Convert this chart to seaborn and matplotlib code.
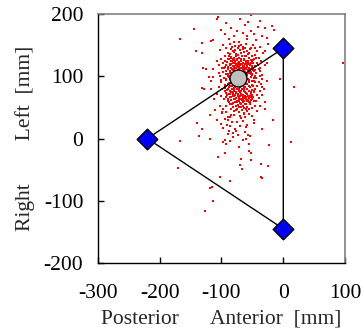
import matplotlib
matplotlib.use("Agg")
import matplotlib.pyplot as plt
import seaborn as sns
import pandas as pd

# ---- data (mm) ----
scatter_x = [
    -92, -84, -57, -41, -30, -18, -15, -52, -106, -107, -70, -62, -75, -66, -48, -35, -95, -88, -80, -58, -44, -26, -53, -38, -100,
    -113, -117, -132, -141, -131, -167, -144, -98, -92, -86, -78, -72, -66, -60, -54, -49, -43, -37, -30, -24, -103, -82, -70, -64, -57, -90, -46, -39, -33, -76, -95, -85, -67,
    -100, -94, -88, -83, -79, -75, -71, -68, -63, -59, -55, -51, -47, -42, -36, -30, -26, -92, -87, -82, -78, -74, -70, -66, -62, -58, -54, -50, -45, -40,
    -96, -90, -85, -80, -76, -72, -68, -64, -60, -56, -52, -48, -104, -108, -113, -125, -130, -120, -113, -117, -77, -61, -86, -81, -73, -67, -58, -53, -44, -38, -34, -93, -98, -103,
    -96, -92, -88, -85, -60, -56, -52, -48, -44, -40, -100, -95, -90, -86, -82, -78, -74, -70, -66, -62, -58, -54, -50, -46, -42, -36,
    -104, -99, -94, -89, -84, -80, -76, -72, -68, -64, -60, -56, -52, -47, -43, -38, -32, -26, -35, -129, -132, -117, -91, -86, -81, -77, -73, -69, -65, -61, -57, -53, -49, -44, -96, -101, -108, -112, -39, -34, -30,
    -88, -83, -78, -74, -70, -66, -62, -58, -54, -50, -46, -93, -98, -103, -37, -30, -85, -80, -75, -71, -67, -63, -59, -55, -92, -111, -118, -99, -42, -79, -70, -62, -86, -90,
    -107, -90, -98, -86, -78, -75, -70, -82, -81, -94, -93, -97, -131, -140, -136, -118, -35, -56, -16, 13, -23, -65, -58, -74, -62, -48, -88, -66,
    -36, -25, -36, -52, -56, -53, -69, -67, -70, -86, -102, -106, -94, -116, -119, -114, -126, -171, -167, -35,
    96, -5, 18, -120, -113, -117, -129, -125, -130,
    -91, -85, -80, -73, -69, -65, -61, -57, -53, -49, -89, -84, -79, -75, -71, -67, -63, -59, -55, -51, -87, -83, -78, -74, -70, -66, -62, -57, -53, -49,
    -90, -84, -79, -64, -60, -55, -50, -46, -95, -88, -83, -79, -75, -71, -67, -63, -59, -55, -51, -92, -87, -82, -78, -74, -70, -66, -62, -58, -54, -50,
    -85, -80, -75, -71, -67, -63, -59, -55, -89, -47, -81, -76, -72, -68, -64, -60, -56, -84, -74, -62, -55, -69, -80, -58, -46, -88, -98, -41, -37, -44, -34, -38, -100, -104, -99,
    -76, -72, -68, -79, -83, -65, -61, -87, -57, -74, -70, -66, -81, -77, -63, -59, -85, -73, -69, -67,
    -89, -87, -86, -84, -83, -81, -80, -79, -77, -76, -74, -73, -71, -70, -69, -67, -66, -64, -63, -61, -60, -58, -57, -55, -54, -53,
    -88, -86, -85, -83, -82, -80, -79, -77, -76, -74, -73, -71, -70, -68, -67, -65, -64, -62, -61, -59, -58, -56, -55, -53, -52,
    -87, -85, -84, -82, -81, -79, -78, -76, -75, -73, -72, -70, -69, -67, -66, -64, -63, -61, -60, -58, -57, -55, -54, -52,
    -90, -87, -84, -81, -78, -75, -72, -69, -66, -63, -60, -57, -54, -51, -49, -48, -47, -46, -45, -92, -93, -94, -91, -92, -95,
    -86, -80, -74, -68, -62, -56, -50, -78, -66, -83, -59, -71, -52, -89, -49, -88, -50, -51,
    -101, -95, -89, -84, -77, -68, -60, -54, -47, -99, -91, -83, -76, -64, -57, -50, -87, -72, -61,
]
scatter_y = [
    186, 177, 187, 179, 177, 181, 174, 199, 195, 192, 192, 183, 172, 170, 168, 165, 168, 160, 165, 160, 158, 162, 172, 188, 175,
    159, 157, 154, 141, 138, 160, 176, 150, 145, 152, 148, 155, 147, 152, 144, 150, 141, 147, 140, 152, 142, 140, 142, 139, 136, 138, 134, 130, 137, 136, 132, 131, 133,
    128, 125, 127, 124, 130, 126, 129, 124, 127, 123, 129, 124, 127, 121, 125, 118, 122, 118, 120, 117, 121, 118, 120, 116, 119, 115, 118, 114, 117, 112,
    113, 111, 114, 110, 113, 111, 114, 110, 112, 109, 111, 108, 118, 124, 112, 112, 114, 99, 99, 92, 132, 133, 108, 105, 106, 107, 104, 103, 105, 108, 102, 104, 107, 101,
    98, 94, 99, 92, 98, 94, 99, 92, 97, 90, 90, 86, 88, 84, 87, 83, 86, 82, 86, 83, 87, 82, 86, 80, 84, 88,
    82, 79, 76, 79, 74, 77, 73, 77, 72, 76, 73, 77, 71, 74, 70, 76, 80, 92, 82, 80, 81, 79, 70, 67, 69, 65, 68, 63, 67, 64, 68, 62, 66, 61, 64, 68, 72, 64, 65, 70, 58,
    58, 55, 59, 54, 57, 52, 56, 51, 55, 49, 53, 52, 47, 52, 52, 48, 47, 44, 48, 43, 46, 41, 45, 40, 42, 46, 37, 41, 44, 38, 36, 34, 35, 30,
    30, 35, 17, 20, 15, 26, 20, 9, 2, -2, -9, -5, 16, 25, 4, -1, 16, -9, 30, -6, -10, 28, 22, 5, 10, 25, 12, -2,
    -41, -44, -62, -35, -20, -23, -33, -49, -43, -68, -62, -29, -24, -78, -79, -101, -116, -48, -4, -63,
    122, 96, 83, 99, 99, 92, 80, 112, 114,
    123, 129, 126, 122, 126, 121, 125, 120, 126, 121, 115, 119, 115, 116, 115, 119, 114, 117, 113, 116, 109, 112, 108, 110, 108, 111, 107, 110, 107, 110,
    103, 101, 103, 103, 101, 105, 102, 101, 81, 82, 80, 80, 79, 80, 79, 80, 79, 76, 78, 73, 71, 72, 70, 71, 69, 70, 69, 71, 68, 70,
    62, 63, 61, 60, 62, 60, 61, 59, 64, 60, 50, 52, 50, 51, 49, 48, 47, 143, 146, 146, 138, 150, 155, 165, 145, 133, 121, 118, 114, 129, 96, 100, 94, 106, 113,
    118, 113, 109, 111, 106, 116, 119, 100, 123, 84, 75, 92, 95, 89, 91, 88, 85, 107, 102, 79,
    101, 96, 106, 90, 98, 110, 94, 88, 104, 91, 100, 109, 94, 88, 103, 97, 91, 106, 99, 93, 87, 102, 96, 91, 108, 99,
    71, 77, 66, 84, 75, 69, 81, 74, 65, 79, 72, 67, 85, 76, 70, 64, 83, 74, 67, 79, 72, 65, 84, 74, 67,
    118, 125, 113, 121, 128, 117, 124, 119, 128, 115, 123, 118, 127, 114, 122, 117, 126, 113, 121, 116, 125, 119, 112, 122,
    60, 56, 62, 57, 63, 58, 64, 55, 59, 65, 56, 62, 58, 63, 85, 97, 76, 110, 90, 108, 96, 85, 78, 66, 115,
    135, 139, 134, 138, 133, 137, 132, 142, 144, 147, 141, 149, 146, 127, 126, 89, 93, 104,
    24, 31, 8, 38, 12, 33, 18, 4, 29, 42, 22, 27, 46, 39, 6, 36, -4, -14, 0,
]

triangle_x = [0, -220, 0, 0]
triangle_y = [145, 0, -145, 145]
vertex_x = [0, -220, 0]
vertex_y = [145, 0, -145]
center_x = [-73]
center_y = [97]

x_ticks = [-300, -200, -100, 0, 100]
y_ticks = [-200, -100, 0, 100, 200]

pts = pd.DataFrame({"x": scatter_x, "y": scatter_y})
verts = pd.DataFrame({"x": vertex_x, "y": vertex_y})
cen = pd.DataFrame({"x": center_x, "y": center_y})

sns.set_style("white")
plt.rcParams["font.family"] = ["Liberation Serif", "DejaVu Serif"]

FS = 15.5
fig = plt.figure(figsize=(3.64, 3.33), dpi=100)
ax = fig.add_axes([0.269, 0.21, 0.679, 0.748])

sns.scatterplot(data=pts, x="x", y="y", ax=ax, color="#ff0000", marker="s",
                s=3, linewidth=0, zorder=2)
ax.plot(triangle_x, triangle_y, color="black", lw=1.0, zorder=3)
sns.scatterplot(data=cen, x="x", y="y", ax=ax, color="#c0c0c0", marker="o",
                s=150, edgecolor="black", linewidth=1.0, zorder=4)
sns.scatterplot(data=verts, x="x", y="y", ax=ax, color="#0000ff", marker="D",
                s=110, edgecolor="black", linewidth=1.0, zorder=5)

ax.set_xlim(-300, 100)
ax.set_ylim(-200, 200)
ax.set_xticks(x_ticks)
ax.set_yticks(y_ticks)
ax.set_xticklabels([str(t) for t in x_ticks])
ax.set_yticklabels([str(t) for t in y_ticks])
ax.tick_params(axis="both", direction="in", length=4, width=1, labelsize=FS,
               colors="black", left=True, bottom=True, top=False, right=False)
ax.tick_params(axis="x", pad=15)
ax.tick_params(axis="y", pad=10.5)

for side in ["left", "bottom"]:
    ax.spines[side].set_color("black")
    ax.spines[side].set_linewidth(1.0)
for side in ["top", "right"]:
    ax.spines[side].set_color("#808080")
    ax.spines[side].set_linewidth(1.2)

ax.set_xlabel("Posterior      Anterior  [mm]", fontsize=FS, labelpad=5)
ax.set_ylabel("Right        Left  [mm]", fontsize=FS, labelpad=6)

fig.savefig("out.png", dpi=100)
